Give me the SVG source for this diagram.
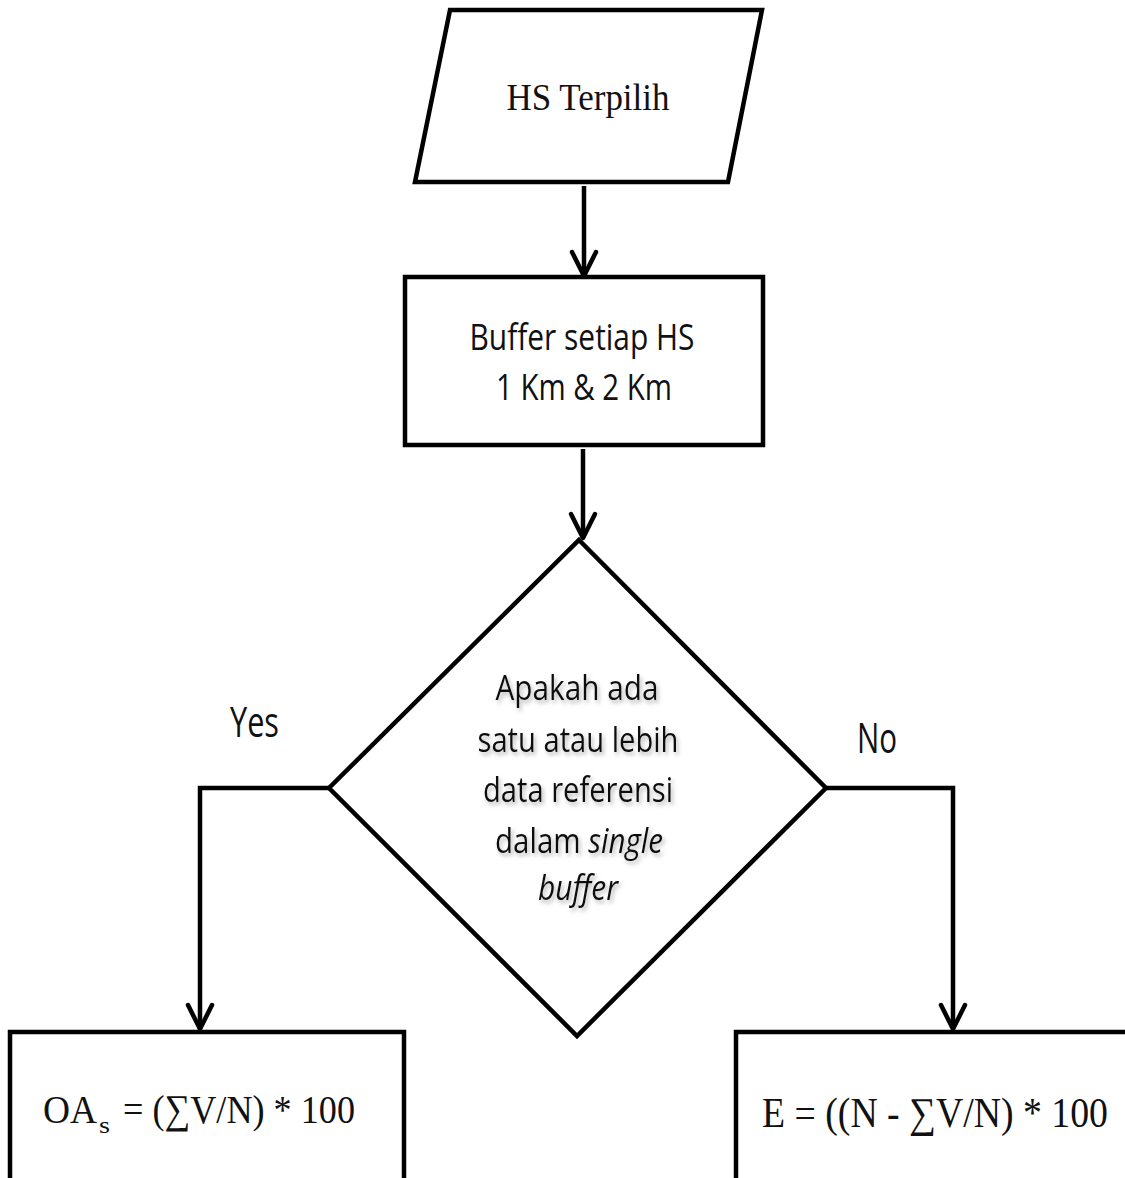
<svg xmlns="http://www.w3.org/2000/svg" width="1125" height="1178" viewBox="0 0 1125 1178">
  <style>
    .shape { fill: #ffffff; stroke: #000000; stroke-width: 4.5; stroke-linejoin: miter; }
    .conn { fill: none; stroke: #000000; stroke-width: 4.5; }
    .serif { font-family: "Liberation Serif", "DejaVu Serif", serif; fill: #111111; }
    .sans { font-family: "Open Sans", "Liberation Sans", "DejaVu Sans", sans-serif; fill: #111111; }
    .mid { text-anchor: middle; }
  </style>
  <defs>
    <marker id="arrow" markerUnits="userSpaceOnUse" viewBox="-28 -16 32 32" refX="0" refY="0" markerWidth="32" markerHeight="32" orient="auto">
      <path d="M -24 -12 L 0 0 L -24 12" fill="none" stroke="#000000" stroke-width="4.5" stroke-linecap="round" stroke-linejoin="round"/>
    </marker>
    <filter id="shadow" x="-10%" y="-30%" width="120%" height="160%">
      <feDropShadow dx="2" dy="3" stdDeviation="2" flood-color="#777777" flood-opacity="0.55"/>
    </filter>
  </defs>
  <rect width="1125" height="1178" fill="#ffffff"/>

  <g id="connectors">
    <path class="conn" d="M 584 186 L 584 276" marker-end="url(#arrow)"/>
    <path class="conn" d="M 583 449 L 583 538" marker-end="url(#arrow)"/>
    <path class="conn" d="M 329 788 L 200 788 L 200 1029" marker-end="url(#arrow)"/>
    <path class="conn" d="M 826 788 L 953 788 L 953 1029" marker-end="url(#arrow)"/>
  </g>

  <g id="node-hs-terpilih">
    <polygon class="shape" points="450,10 762,10 728,182 415,182"/>
    <text class="serif mid" x="588" y="110" font-size="38" textLength="163" lengthAdjust="spacingAndGlyphs">HS Terpilih</text>
  </g>

  <g id="node-buffer">
    <rect class="shape" x="405" y="277" width="358" height="168"/>
    <text class="sans mid" x="582" y="350" font-size="37" textLength="225" lengthAdjust="spacingAndGlyphs">Buffer setiap HS</text>
    <text class="sans mid" x="584" y="400" font-size="37" textLength="176" lengthAdjust="spacingAndGlyphs">1 Km &amp; 2 Km</text>
  </g>

  <g id="node-decision">
    <polygon class="shape" points="579,540 826,788 577,1036 329,788"/>
    <g filter="url(#shadow)">
      <text class="sans mid" x="577" y="700" font-size="34" textLength="163" lengthAdjust="spacingAndGlyphs">Apakah ada</text>
      <text class="sans mid" x="578" y="752" font-size="34" textLength="201" lengthAdjust="spacingAndGlyphs">satu atau lebih</text>
      <text class="sans mid" x="578" y="802" font-size="34" textLength="190" lengthAdjust="spacingAndGlyphs">data referensi</text>
      <text class="sans mid" x="579" y="853" font-size="34" textLength="168" lengthAdjust="spacingAndGlyphs">dalam <tspan font-style="italic">single</tspan></text>
      <text class="sans mid" x="578" y="900" font-size="34" font-style="italic" textLength="80" lengthAdjust="spacingAndGlyphs">buffer</text>
    </g>
  </g>

  <g id="label-yes">
    <text class="sans" x="230" y="737" font-size="42" textLength="49" lengthAdjust="spacingAndGlyphs">Yes</text>
  </g>
  <g id="label-no">
    <text class="sans" x="857" y="753" font-size="42" textLength="40" lengthAdjust="spacingAndGlyphs">No</text>
  </g>

  <g id="node-oas">
    <rect class="shape" x="10" y="1032" width="394" height="200"/>
    <text class="serif" x="43" y="1123" font-size="41" textLength="54" lengthAdjust="spacingAndGlyphs">OA</text>
    <text class="serif" x="99" y="1133" font-size="24" textLength="11" lengthAdjust="spacingAndGlyphs">s</text>
    <text class="serif" x="123" y="1123" font-size="41" textLength="232" lengthAdjust="spacingAndGlyphs">= (∑V/N) * 100</text>
  </g>

  <g id="node-e">
    <rect class="shape" x="736" y="1032" width="500" height="200"/>
    <text class="serif" x="762" y="1127" font-size="42" textLength="346" lengthAdjust="spacingAndGlyphs">E = ((N - ∑V/N) * 100</text>
  </g>
</svg>
